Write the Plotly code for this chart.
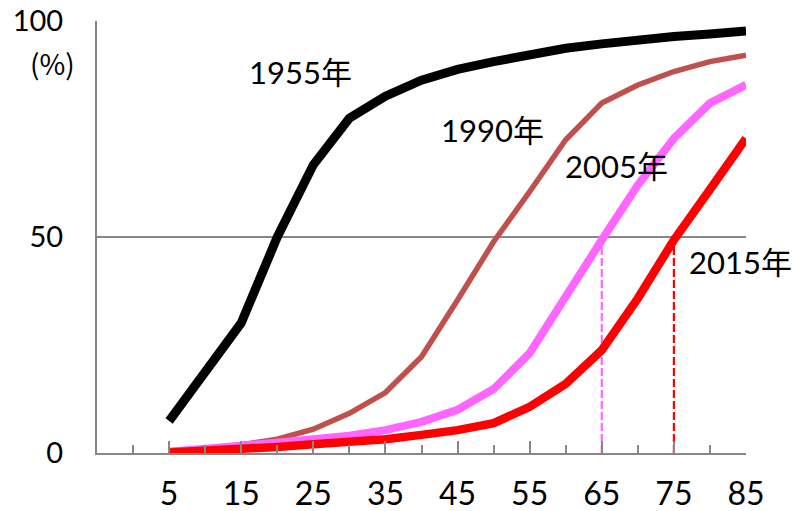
import plotly.graph_objects as go

# ---- data ----
ages = [5, 10, 15, 20, 25, 30, 35, 40, 45, 50, 55, 60, 65, 70, 75, 80, 85]
y1955 = [7.4, 18.5, 30.1, 50.0, 66.7, 77.5, 82.6, 86.3, 88.8, 90.6, 92.3, 93.7, 94.7, 95.8, 96.4, 97.0, 97.7]
y1990 = [0.5, 1.0, 1.9, 3.2, 5.5, 9.2, 14.0, 22.3, 35.4, 48.9, 60.5, 72.5, 81.0, 85.2, 88.3, 90.6, 92.1]
y2005 = [0.3, 0.9, 1.6, 2.4, 3.2, 4.0, 5.3, 7.2, 10.0, 14.8, 23.1, 36.5, 49.3, 62.0, 72.8, 81.0, 85.2]
y2015 = [0.1, 0.4, 0.9, 1.4, 2.0, 2.5, 3.2, 4.2, 5.3, 6.9, 10.7, 16.0, 23.8, 35.8, 49.3, 61.0, 72.8]

series_names = ["1955年", "1990年", "2005年", "2015年"]
x_tick_vals = [5, 15, 25, 35, 45, 55, 65, 75, 85]
x_tick_text = ["5", "15", "25", "35", "45", "55", "65", "75", "85"]
x_minor_vals = [0, 10, 20, 30, 40, 50, 60, 70, 80]
y_tick_vals = [0, 50, 100]
y_tick_text = ["0", "50", "100"]
unit_label = "(%)"

# median markers (dashed drop lines)
median_2005_x = 65
median_2015_x = 75

GRAY = "#878787"
FONT = "Lato, 'Noto Sans CJK JP', sans-serif"

fig = go.Figure()

# dashed drop lines
fig.add_trace(go.Scatter(x=[median_2005_x, median_2005_x],
                         y=[0, y2005[ages.index(median_2005_x)]],
                         mode="lines", line=dict(color="#FF66FF", width=2.2, dash="8px,3px"),
                         showlegend=False, hoverinfo="skip"))
fig.add_trace(go.Scatter(x=[median_2015_x, median_2015_x],
                         y=[0, y2015[ages.index(median_2015_x)]],
                         mode="lines", line=dict(color="#FF0000", width=2.2, dash="8px,3px"),
                         showlegend=False, hoverinfo="skip"))

styles = [("#000000", 9), ("#C0504D", 5.5), ("#FF66FF", 8), ("#FF0000", 8.5)]
for name, ys, (col, w) in zip(series_names, [y1955, y1990, y2005, y2015], styles):
    fig.add_trace(go.Scatter(x=ages, y=ys, mode="lines", name=name,
                             line=dict(color=col, width=w), showlegend=False))

# series labels
label_pos = [(23.2, 88.2), (49.8, 74.8), (67.1, 66.4), (84.3, 44.2)]
for name, (lx, ly) in zip(series_names, label_pos):
    fig.add_annotation(x=lx, y=ly, xref="x", yref="y", text=name, showarrow=False,
                       xanchor="center", yanchor="middle",
                       font=dict(size=31, color="#000000", family=FONT))

fig.add_annotation(x=(52 - 97) / 649, y=(453 - 63) / 432, xref="paper", yref="paper",
                   text=unit_label, showarrow=False, xanchor="center", yanchor="middle",
                   font=dict(size=28, color="#000000", family="Noto Sans CJK JP"))

fig.update_layout(
    width=792, height=511,
    margin=dict(l=97, r=46, t=21, b=58, autoexpand=False),
    paper_bgcolor="white", plot_bgcolor="white",
    font=dict(family=FONT, color="#000000"),
    xaxis=dict(range=[-5, 85], tickmode="array", tickvals=x_tick_vals, ticktext=x_tick_text,
               ticks="inside", ticklen=12, tickwidth=2, tickcolor=GRAY,
               minor=dict(tickmode="array", tickvals=x_minor_vals, ticks="inside",
                          ticklen=8, tickwidth=2, tickcolor=GRAY, showgrid=False),
               showline=True, linecolor=GRAY, linewidth=2, showgrid=False, zeroline=False,
               automargin=False, ticklabeloverflow="allow",
               tickfont=dict(size=32, family=FONT, color="#000000"), ticklabelstandoff=12),
    yaxis=dict(range=[0, 100], tickmode="array", tickvals=y_tick_vals, ticktext=y_tick_text,
               ticks="", showline=True, linecolor=GRAY, linewidth=2, automargin=False,
               ticklabeloverflow="allow",
               showgrid=True, gridcolor=GRAY, gridwidth=1.5, zeroline=False,
               tickfont=dict(size=29, family=FONT, color="#000000"), ticklabelstandoff=26),
)

# remove the browser's default 8px page margin so the figure fills the window
fig.write_html("out.html", config={"displayModeBar": False},
               post_script="document.body.style.margin='0';")
